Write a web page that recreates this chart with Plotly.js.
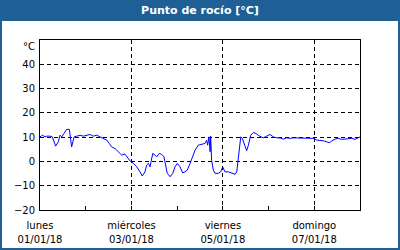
<!DOCTYPE html>
<html>
<head>
<meta charset="utf-8">
<script src="https://cdn.plot.ly/plotly-3.0.1.min.js"></script>
<style>html,body{margin:0;padding:0;background:#fff;}#chart{width:400px;height:250px;}</style>
</head>
<body>
<div id="chart"></div>
<script>
// Hours since 2018-01-01 00:00 and dew point values (°C)
const hours = [0,1.4,2.6,3.5,5.3,6.5,8.2,9.6,10.5,11.4,12.6,14.0,15.4,16.1,16.6,17.5,17.9,19.3,21.0,22.7,
  24.5,26.3,28.0,29.8,31.5,33.2,35.0,36.4,37.6,39.4,41.1,42.9,44.6,45.8,47.3,
  49.0,50.8,52.5,53.7,55.1,56.0,56.9,57.8,58.3,59.2,60.4,61.3,62.6,63.9,65.1,66.2,66.8,68.3,69.7,70.9,
  72.1,73.5,74.9,76.1,77.3,78.8,80.0,81.4,83.1,84.9,86.6,87.5,88.0,88.7,89.3,89.6,90.1,91.0,91.9,93.6,94.9,95.9,
  97.1,98.9,100.6,102.4,103.3,104.1,105.4,106.2,107.6,108.5,109.4,110.6,112.0,113.4,115.1,117.2,119.0,
  120.8,122.5,124.3,126.0,127.7,129.5,131.3,133.0,134.8,136.5,138.2,140.0,141.8,143.5,
  145.3,147.0,148.7,150.5,151.9,153.1,154.9,156.6,158.4,160.1,161.9,163.6,165.4,166.6,168.0];
const dewPoint = [10.1,10.8,10.1,10.4,10.4,10.1,6.3,8.1,10.8,10.1,11.5,13.2,13.2,9.5,6.0,8.8,10.1,10.4,10.8,10.4,
  10.8,11.1,10.4,10.8,10.1,9.5,8.8,7.4,6.0,5.3,4.0,2.6,3.0,1.9,0.2,
  -0.8,-2.2,-4.3,-6.0,-4.3,-1.5,-0.8,-2.2,-0.1,3.3,2.6,1.9,3.3,2.9,1.9,-2.2,-4.9,-6.3,-4.9,-2.2,
  -0.8,-2.2,-4.7,-4.3,-3.6,-0.8,1.9,4.6,6.7,7.0,7.4,8.8,6.7,10.1,4.0,10.4,0.5,-3.6,-4.9,-4.9,-4.3,-2.2,
  -4.3,-4.3,-4.9,-5.3,-4.3,1.2,10.1,9.5,6.7,4.4,6.7,10.8,11.9,11.5,10.5,9.7,10.4,
  11.1,10.1,9.7,9.7,9.2,9.7,9.5,9.7,9.7,9.7,9.7,9.7,9.7,9.5,
  8.8,8.8,8.5,8.1,7.7,8.4,9.2,9.5,9.1,9.2,9.2,9.5,9.1,9.7,10.1];

const tickDates = ['2018-01-01','2018-01-03','2018-01-05','2018-01-07'];
const tickDays = ['lunes','miércoles','viernes','domingo'];
const tickLabels = ['01/01/18','03/01/18','05/01/18','07/01/18'];
const yTicks = [-20,-10,0,10,20,30,40];

const start = Date.UTC(2018,0,1);
function fmt(ms){const d=new Date(ms);const p=n=>String(n).padStart(2,'0');
  return d.getUTCFullYear()+'-'+p(d.getUTCMonth()+1)+'-'+p(d.getUTCDate())+' '+p(d.getUTCHours())+':'+p(d.getUTCMinutes());}
const xs = hours.map(h=>fmt(start+h*3600000));

const font = {family:'DejaVu Sans, Verdana, sans-serif', size:10, color:'#000'};
const blue = '#1E5F96';
const W=320,H=170;
const xr = ['2018-01-01','2018-01-08'];

Plotly.newPlot('chart',[{
  x: xs, y: dewPoint, type:'scatter', mode:'lines',
  line:{color:'#0000FF', width:1}, hoverinfo:'skip'
},{
  x: tickDates, y: tickDates.map(()=>null), xaxis:'x2', yaxis:'y', type:'scatter', mode:'lines',
  line:{width:0}, hoverinfo:'skip', showlegend:false
}],{
  width:400, height:250,
  margin:{l:40,r:40,t:40,b:40},
  paper_bgcolor:'#fff', plot_bgcolor:'#fff',
  showlegend:false,
  font: font,
  title:{text:'Punto de rocío [°C]', font:{family:'DejaVu Sans, Verdana, sans-serif', size:11, color:'#fff', weight:'bold'},
    x:0.5, xanchor:'center', y:1-10/250, yref:'container', yanchor:'middle'},
  xaxis:{type:'date', range:xr,
    tickvals: tickDates, ticktext: tickDays,
    ticks:'inside', ticklen:4, tickcolor:'#000', tickfont:font, ticklabelstandoff:6,
    showgrid:true, gridcolor:'#000', gridwidth:1, griddash:'4px,3px',
    minor:{dtick:86400000, tick0:'2018-01-01', ticks:'inside', ticklen:4, tickcolor:'#000', showgrid:false},
    showline:true, linecolor:'#000', linewidth:1, mirror:true, zeroline:false, fixedrange:true},
  xaxis2:{type:'date', range:xr, overlaying:'x', anchor:'y', side:'bottom',
    tickvals: tickDates, ticktext: tickLabels, ticks:'', tickfont:font, ticklabelstandoff:22,
    showgrid:false, showline:false, zeroline:false, fixedrange:true},
  yaxis:{range:[-20,50], tickvals:yTicks, ticks:'', tickfont:font,
    showgrid:true, gridcolor:'#000', gridwidth:1, griddash:'4px,3px',
    showline:true, linecolor:'#000', linewidth:1, mirror:true, zeroline:false, fixedrange:true, ticklabelstandoff:2},
  annotations:[{text:'°C', xref:'paper', yref:'y', x:0, y:47.5, xanchor:'right', yanchor:'middle', xshift:-3, showarrow:false, font:font}],
  shapes:[
    {type:'rect', xref:'paper', yref:'paper', x0:-40/W, x1:1+40/W, y0:1+20/H, y1:1+40/H, fillcolor:blue, line:{width:0}, layer:'below'},
    {type:'rect', xref:'paper', yref:'paper', x0:(1-40)/W, x1:1+(39)/W, y0:-(39)/H, y1:1+20/H, fillcolor:'rgba(0,0,0,0)', line:{color:blue, width:2}, layer:'below'}
  ]
},{staticPlot:true, displayModeBar:false});
</script>
</body>
</html>
